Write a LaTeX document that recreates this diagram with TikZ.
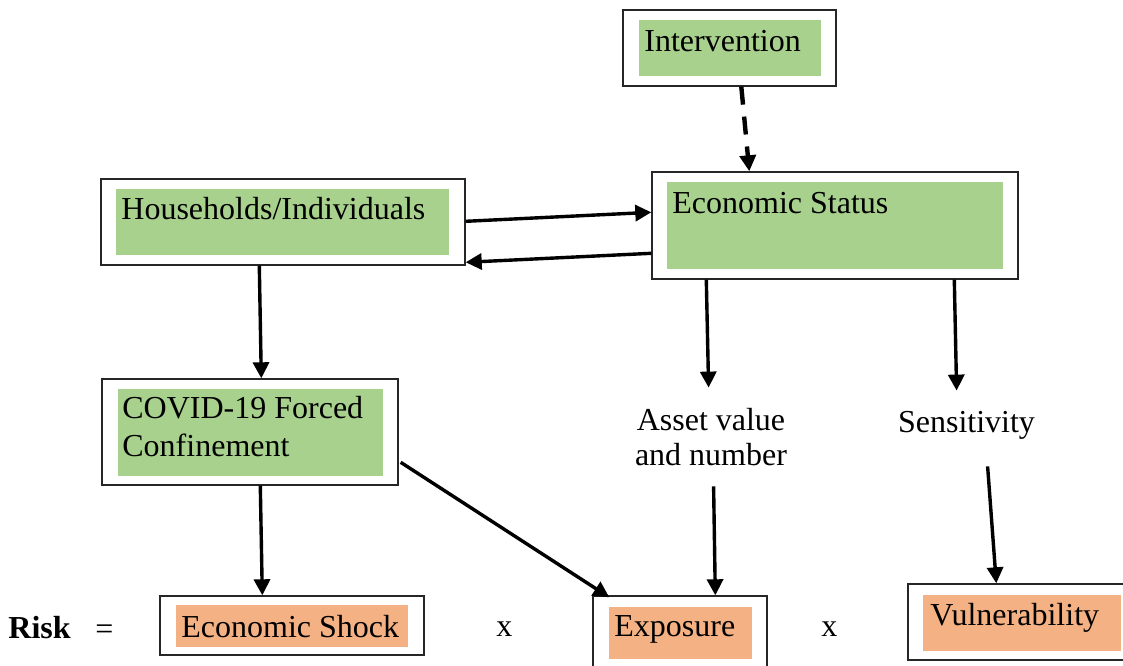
\documentclass[tikz,border=0pt]{standalone}
\usepackage{fontspec}
\setmainfont{Liberation Serif}
\usetikzlibrary{arrows.meta,fit,calc}
\definecolor{gfill}{HTML}{A9D18E}
\definecolor{ofill}{HTML}{F4B183}
\begin{document}
\begin{tikzpicture}[x=0.5pt,y=-0.5pt,
  outerbox/.style={draw=black!85, line width=0.7pt, inner sep=0pt, rectangle},
  gbox/.style={fill=gfill, draw=none, inner sep=0pt, rectangle},
  obox/.style={fill=ofill, draw=none, inner sep=0pt, rectangle},
  txt/.style={anchor=base west, inner sep=0pt, font=\fontsize{16}{19}\selectfont},
  lbl/.style={inner sep=0pt, rectangle, font=\fontsize{16}{17.5}\selectfont},
  arr/.style={line width=1.7pt, -{Triangle[length=8pt,width=8pt]}},
  dasharr/.style={line width=2.2pt, dash pattern=on 9pt off 6pt, -{Triangle[length=8pt,width=8pt]}}]
\useasboundingbox (0,0) rectangle (1123,665);

% Intervention
\node[outerbox, fit={(623,10)(836,86)}] (int) {};
\node[gbox, fit={(639,20)(821,76)}] (intin) {};
\node[txt] (intt) at (644,51) {Intervention};

% Economic Status
\node[outerbox, fit={(652,172)(1018,279)}] (econ) {};
\node[gbox, fit={(667,182)(1003,269)}] (econin) {};
\node[txt] (econt) at (672,213) {Economic Status};

% Households
\node[outerbox, fit={(101,179)(465,265)}] (hh) {};
\node[gbox, fit={(116,189)(449,255)}] (hhin) {};
\node[txt] (hht) at (121,219) {Households/Individuals};

% COVID
\node[outerbox, fit={(102,379)(398,485)}] (covid) {};
\node[gbox, fit={(118,389)(383,476)}] (covin) {};
\node[txt] (covt1) at (122,418) {COVID-19 Forced};
\node[txt] (covt2) at (122,456) {Confinement};

% labels
\node[lbl, align=left, fit={(630,412)(792,485)}] (asset) {Asset value\\and number};
\node[lbl, fit={(893,410)(1040,461)}] (sens) {Sensitivity};

% bottom row
\node[txt, font=\fontsize{16}{19}\selectfont\bfseries] (risk) at (8,638) {Risk};
\node[txt] (eq) at (95,639) {=};
\node[outerbox, fit={(160,596)(424,655)}] (shock) {};
\node[obox, fit={(176,605)(408,647)}] (shockin) {};
\node[txt] (shockt) at (181,637) {Economic Shock};
\node[txt] (x1) at (496,636) {x};
\node[outerbox, fit={(593,596)(767,668)}] (expo) {};
\node[obox, fit={(609,607)(752,659)}] (expoin) {};
\node[txt] (expot) at (614,636) {Exposure};
\node[txt] (x2) at (821,636) {x};
\node[outerbox, fit={(908,584)(1130,660)}] (vuln) {};
\node[obox, fit={(923,595)(1121,651)}] (vulnin) {};
\node[txt] (vulnt) at (930,625) {Vulnerability};

% connectors
\draw[dasharr] ($(int.south west)+(119,0)$) -- ($(econ.north west)+(98,0)$);
\draw[arr] ($(hh.north east)+(0,43)$) -- ($(econ.north west)+(0,41)$);
\draw[arr] ($(econ.north west)+(0,82)$) -- ($(hh.north east)+(0,84)$);
\draw[arr] ($(hh.south west)+(159,0)$) -- ($(covid.north west)+(160,0)$);
\draw[arr] ($(covid.south west)+(159,0)$) -- ($(shock.north west)+(103,0)$);
\draw[arr] ($(covid.north east)+(2,84)$) -- ($(expo.north west)+(17,2)$);
\draw[arr] ($(econ.south west)+(55,0)$) -- ($(asset.north west)+(79,-24)$);
\draw[arr] ($(asset.south west)+(84,1)$) -- ($(expo.north west)+(123,0)$);
\draw[arr] ($(econ.south west)+(303,0)$) -- ($(sens.north west)+(64,-19)$);
\draw[arr] ($(sens.south west)+(95,5)$) -- ($(vuln.north west)+(89,0)$);
\end{tikzpicture}
\end{document}
